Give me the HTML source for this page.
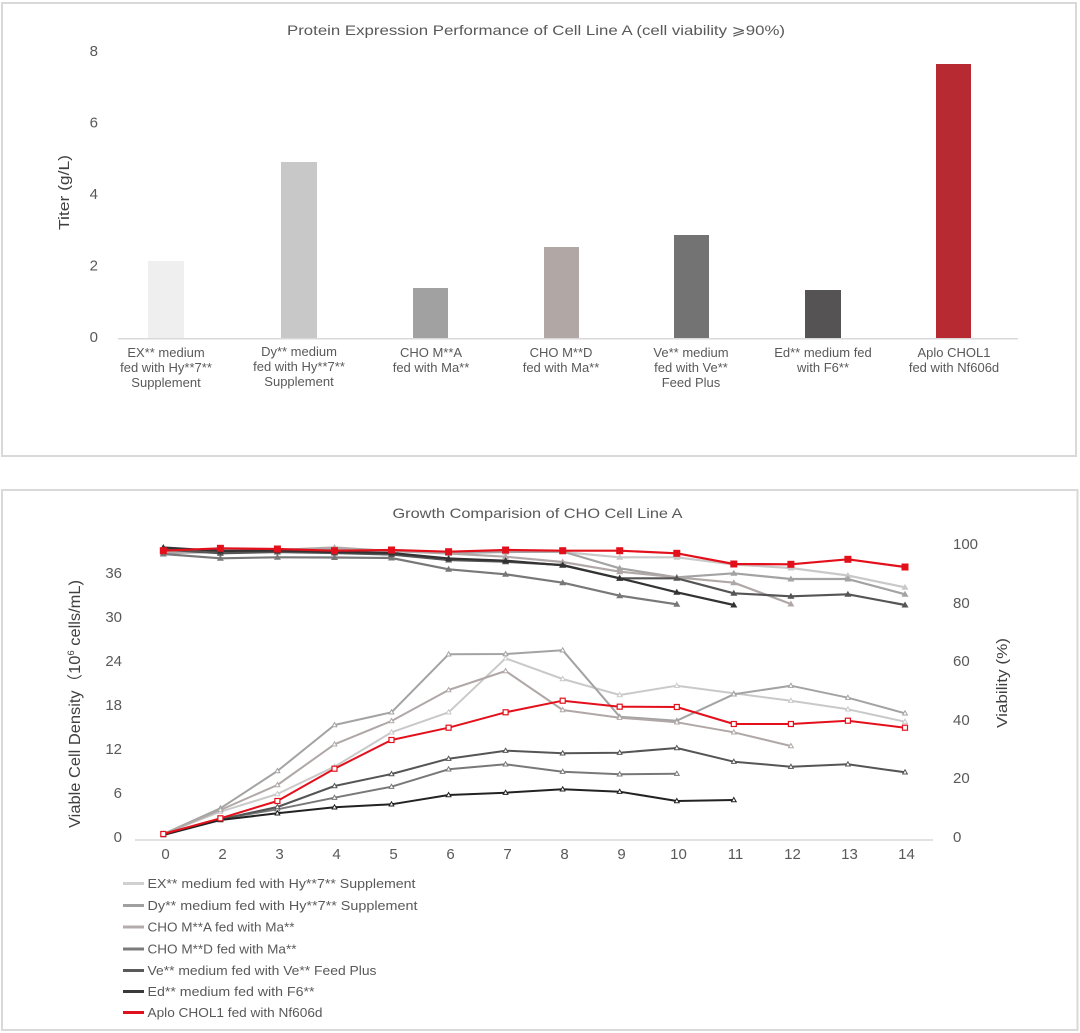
<!DOCTYPE html>
<html><head><meta charset="utf-8"><style>
html,body{margin:0;padding:0;background:#fff;}
svg{display:block;}
text{font-family:"Liberation Sans","Noto Sans CJK SC",sans-serif;fill:#595959;}
</style></head><body>
<svg width="1080" height="1033" viewBox="0 0 1080 1033" xmlns="http://www.w3.org/2000/svg">
<defs>
<marker id="vEX" markerWidth="8" markerHeight="8" refX="4" refY="4.5" markerUnits="userSpaceOnUse"><path d="M4,1 L7.5,7 L0.5,7Z" fill="#c9c9c9"/></marker>
<marker id="vDy" markerWidth="8" markerHeight="8" refX="4" refY="4.5" markerUnits="userSpaceOnUse"><path d="M4,1 L7.5,7 L0.5,7Z" fill="#a3a3a3"/></marker>
<marker id="vCA" markerWidth="8" markerHeight="8" refX="4" refY="4.5" markerUnits="userSpaceOnUse"><path d="M4,1 L7.5,7 L0.5,7Z" fill="#b0a8a7"/></marker>
<marker id="vCD" markerWidth="8" markerHeight="8" refX="4" refY="4.5" markerUnits="userSpaceOnUse"><path d="M4,1 L7.5,7 L0.5,7Z" fill="#787878"/></marker>
<marker id="vVe" markerWidth="8" markerHeight="8" refX="4" refY="4.5" markerUnits="userSpaceOnUse"><path d="M4,1 L7.5,7 L0.5,7Z" fill="#555555"/></marker>
<marker id="vEd" markerWidth="8" markerHeight="8" refX="4" refY="4.5" markerUnits="userSpaceOnUse"><path d="M4,1 L7.5,7 L0.5,7Z" fill="#333333"/></marker>
<marker id="vR" markerWidth="8" markerHeight="8" refX="4" refY="4" markerUnits="userSpaceOnUse"><rect x="0.5" y="0.5" width="7" height="7" fill="#e3101c"/></marker>
<marker id="cEX" markerWidth="6" markerHeight="6" refX="3" refY="3.3" markerUnits="userSpaceOnUse"><path d="M3,0.8 L5.4,5 L0.6,5Z" fill="#fff" stroke="#c9c9c9" stroke-width="1"/></marker>
<marker id="cDy" markerWidth="6" markerHeight="6" refX="3" refY="3.3" markerUnits="userSpaceOnUse"><path d="M3,0.8 L5.4,5 L0.6,5Z" fill="#fff" stroke="#a3a3a3" stroke-width="1"/></marker>
<marker id="cCA" markerWidth="6" markerHeight="6" refX="3" refY="3.3" markerUnits="userSpaceOnUse"><path d="M3,0.8 L5.4,5 L0.6,5Z" fill="#fff" stroke="#b0a8a7" stroke-width="1"/></marker>
<marker id="cCD" markerWidth="6" markerHeight="6" refX="3" refY="3.3" markerUnits="userSpaceOnUse"><path d="M3,0.8 L5.4,5 L0.6,5Z" fill="#fff" stroke="#787878" stroke-width="1"/></marker>
<marker id="cVe" markerWidth="6" markerHeight="6" refX="3" refY="3.3" markerUnits="userSpaceOnUse"><path d="M3,0.8 L5.4,5 L0.6,5Z" fill="#fff" stroke="#555555" stroke-width="1"/></marker>
<marker id="cEd" markerWidth="6" markerHeight="6" refX="3" refY="3.3" markerUnits="userSpaceOnUse"><path d="M3,0.8 L5.4,5 L0.6,5Z" fill="#fff" stroke="#222222" stroke-width="1"/></marker>
<marker id="cR" markerWidth="7" markerHeight="7" refX="3.5" refY="3.5" markerUnits="userSpaceOnUse"><rect x="1" y="1" width="5" height="5" fill="#fff" stroke="#e3101c" stroke-width="1.2"/></marker>
</defs>

<!-- ============ TOP CHART ============ -->
<rect x="2" y="3" width="1074" height="453" fill="#fff" stroke="#d9d9d9" stroke-width="2"/>
<text x="536" y="35" font-size="14" text-anchor="middle" textLength="498" lengthAdjust="spacingAndGlyphs">Protein Expression Performance of Cell Line A (cell viability ⩾90%)</text>

<g font-size="15" text-anchor="end">
<text x="98" y="56">8</text>
<text x="98" y="127.5">6</text>
<text x="98" y="199">4</text>
<text x="98" y="270.5">2</text>
<text x="98" y="342">0</text>
</g>
<text transform="translate(69,192.5) rotate(-90)" font-size="15" text-anchor="middle" style="fill:#404040" textLength="75" lengthAdjust="spacingAndGlyphs">Titer (g/L)</text>

<rect x="148" y="261" width="36" height="77" fill="#eeefee"/>
<rect x="281" y="162" width="36" height="176" fill="#c8c8c8"/>
<rect x="413" y="288" width="35" height="50" fill="#a0a1a0"/>
<rect x="544" y="247" width="35" height="91" fill="#b1a8a6"/>
<rect x="674" y="235" width="35" height="103" fill="#737373"/>
<rect x="805" y="290" width="36" height="48" fill="#555353"/>
<rect x="936" y="64" width="35" height="274" fill="#b72a31"/>
<line x1="118" y1="338.8" x2="1018" y2="338.8" stroke="#d9d9d9" stroke-width="1.5"/>

<g font-size="13" text-anchor="middle">
<text x="166" y="357">EX** medium</text><text x="166" y="372">fed with Hy**7**</text><text x="166" y="387">Supplement</text>
<text x="299" y="356">Dy** medium</text><text x="299" y="371">fed with Hy**7**</text><text x="299" y="386">Supplement</text>
<text x="431" y="357">CHO M**A</text><text x="431" y="372">fed with Ma**</text>
<text x="561" y="357">CHO M**D</text><text x="561" y="372">fed with Ma**</text>
<text x="691" y="357">Ve** medium</text><text x="691" y="372">fed with Ve**</text><text x="691" y="387">Feed Plus</text>
<text x="823" y="357">Ed** medium fed</text><text x="823" y="372">with F6**</text>
<text x="954" y="357">Aplo CHOL1</text><text x="954" y="372">fed with Nf606d</text>
</g>

<!-- ============ BOTTOM CHART ============ -->
<rect x="2" y="490" width="1075.5" height="540" fill="#fff" stroke="#d9d9d9" stroke-width="2"/>
<text x="537.5" y="518" font-size="14" text-anchor="middle" textLength="290" lengthAdjust="spacingAndGlyphs">Growth Comparision of CHO Cell Line A</text>

<g font-size="15" text-anchor="end">
<text x="122" y="842">0</text>
<text x="122" y="798">6</text>
<text x="122" y="754">12</text>
<text x="122" y="710">18</text>
<text x="122" y="666">24</text>
<text x="122" y="622">30</text>
<text x="122" y="578">36</text>
</g>
<g font-size="15" text-anchor="start">
<text x="953" y="549">100</text>
<text x="953" y="608">80</text>
<text x="953" y="666">60</text>
<text x="953" y="725">40</text>
<text x="953" y="783">20</text>
<text x="953" y="842">0</text>
</g>
<text transform="translate(80,704) rotate(-90)" font-size="15.5" text-anchor="middle" style="fill:#404040" textLength="248" lengthAdjust="spacingAndGlyphs">Viable Cell Density（10<tspan font-size="9" dy="-6">6</tspan><tspan dy="6"> cells/mL)</tspan></text>
<text transform="translate(1007,683) rotate(-90)" font-size="15" text-anchor="middle" style="fill:#404040" textLength="90" lengthAdjust="spacingAndGlyphs">Viability (%)</text>

<line x1="135" y1="840" x2="933" y2="840" stroke="#d9d9d9" stroke-width="1.5"/>
<g font-size="15" text-anchor="middle">
<text x="165.5" y="859">0</text><text x="222.5" y="859">2</text><text x="279.5" y="859">3</text><text x="336.5" y="859">4</text>
<text x="393.5" y="859">5</text><text x="450.5" y="859">6</text><text x="507.5" y="859">7</text><text x="564.5" y="859">8</text>
<text x="621.5" y="859">9</text><text x="678.5" y="859">10</text><text x="735.5" y="859">11</text><text x="792.5" y="859">12</text>
<text x="849.5" y="859">13</text><text x="906.5" y="859">14</text>
</g>

<g fill="none" stroke-width="2.2" stroke-linejoin="round">
<!-- viability -->
<polyline stroke="#c9c9c9" marker-start="url(#vEX)" marker-mid="url(#vEX)" marker-end="url(#vEX)" points="163.3,552 220.4,550 277.4,550 334.5,550 391.5,551 448.6,552 505.6,551.5 562.7,552 619.7,557.3 676.8,557.3 733.8,564.5 790.9,568 847.9,575.5 905,587.3"/>
<polyline stroke="#a3a3a3" marker-start="url(#vDy)" marker-mid="url(#vDy)" marker-end="url(#vDy)" points="163.3,553 220.4,552 277.4,551 334.5,549 391.5,551 448.6,553 505.6,552 562.7,551.5 619.7,568.3 676.8,577.3 733.8,573.3 790.9,579 847.9,579 905,594.3"/>
<polyline stroke="#b0a8a7" marker-start="url(#vCA)" marker-mid="url(#vCA)" marker-end="url(#vCA)" points="163.3,552 220.4,551 277.4,550 334.5,547.5 391.5,551 448.6,553.5 505.6,556.7 562.7,562 619.7,571.7 676.8,577.3 733.8,582.7 790.9,604"/>
<polyline stroke="#787878" marker-start="url(#vCD)" marker-mid="url(#vCD)" marker-end="url(#vCD)" points="163.3,554 220.4,558.3 277.4,557.3 334.5,557.5 391.5,558 448.6,569.3 505.6,574.3 562.7,582.7 619.7,595.7 676.8,604.3"/>
<polyline stroke="#555555" marker-start="url(#vVe)" marker-mid="url(#vVe)" marker-end="url(#vVe)" points="163.3,549.5 220.4,553.3 277.4,552 334.5,553 391.5,554.5 448.6,560 505.6,561.7 562.7,565 619.7,578.3 676.8,578.3 733.8,593.3 790.9,596.3 847.9,594.3 905,605"/>
<polyline stroke="#333333" marker-start="url(#vEd)" marker-mid="url(#vEd)" marker-end="url(#vEd)" points="163.3,547.5 220.4,551 277.4,550.5 334.5,552 391.5,553 448.6,558.5 505.6,560.7 562.7,565.3 619.7,578.3 676.8,592.3 733.8,605"/>
<polyline stroke="#e3101c" marker-start="url(#vR)" marker-mid="url(#vR)" marker-end="url(#vR)" points="163.3,550.7 220.4,548.3 277.4,549 334.5,550.7 391.5,550 448.6,551.7 505.6,550 562.7,550.7 619.7,550.7 676.8,553.3 733.8,564 790.9,564.3 847.9,559.3 905,567"/>
</g>
<g fill="none" stroke-width="2" stroke-linejoin="round">
<!-- VCD -->
<polyline stroke="#c9c9c9" marker-start="url(#cEX)" marker-mid="url(#cEX)" marker-end="url(#cEX)" points="163.3,834 220.4,811.7 277.4,794 334.5,766.7 391.5,732.3 448.6,712.3 505.6,658.3 562.7,679 619.7,695 676.8,685.7 733.8,693.3 790.9,700.7 847.9,709.3 905,721.7"/>
<polyline stroke="#a3a3a3" marker-start="url(#cDy)" marker-mid="url(#cDy)" marker-end="url(#cDy)" points="163.3,834 220.4,808.3 277.4,771 334.5,725 391.5,712.3 448.6,654.3 505.6,654 562.7,650.3 619.7,716.7 676.8,720.7 733.8,694.3 790.9,685.7 847.9,697.7 905,713.3"/>
<polyline stroke="#b0a8a7" marker-start="url(#cCA)" marker-mid="url(#cCA)" marker-end="url(#cCA)" points="163.3,834 220.4,810 277.4,785 334.5,744.3 391.5,721 448.6,690 505.6,671 562.7,710 619.7,717.7 676.8,722.3 733.8,732.3 790.9,746"/>
<polyline stroke="#787878" marker-start="url(#cCD)" marker-mid="url(#cCD)" marker-end="url(#cCD)" points="163.3,834 220.4,819 277.4,809.3 334.5,797.7 391.5,786.7 448.6,769.3 505.6,764.3 562.7,771.7 619.7,774.3 676.8,773.7"/>
<polyline stroke="#555555" marker-start="url(#cVe)" marker-mid="url(#cVe)" marker-end="url(#cVe)" points="163.3,834 220.4,819.3 277.4,807 334.5,786 391.5,774 448.6,758.7 505.6,750.7 562.7,753.3 619.7,752.7 676.8,748 733.8,761.7 790.9,766.7 847.9,764.3 905,772.3"/>
<polyline stroke="#222222" marker-start="url(#cEd)" marker-mid="url(#cEd)" marker-end="url(#cEd)" points="163.3,835 220.4,820 277.4,813.3 334.5,807.3 391.5,804.3 448.6,795 505.6,792.7 562.7,789.3 619.7,791.7 676.8,801 733.8,800"/>
<polyline stroke="#e3101c" marker-start="url(#cR)" marker-mid="url(#cR)" marker-end="url(#cR)" points="163.3,834 220.4,818.3 277.4,801 334.5,768.7 391.5,740 448.6,727.7 505.6,712.3 562.7,700.7 619.7,706.7 676.8,707 733.8,724 790.9,724 847.9,720.7 905,727.7"/>
</g>

<!-- legend -->
<g stroke-width="3">
<line x1="123" y1="883.5" x2="144" y2="883.5" stroke="#d0d0d0"/>
<line x1="123" y1="905.5" x2="144" y2="905.5" stroke="#a0a0a0"/>
<line x1="123" y1="927" x2="144" y2="927" stroke="#b4acab"/>
<line x1="123" y1="949" x2="144" y2="949" stroke="#7b7b7b"/>
<line x1="123" y1="970.5" x2="144" y2="970.5" stroke="#5a5a5a"/>
<line x1="123" y1="991.5" x2="144" y2="991.5" stroke="#3a3a3a"/>
<line x1="123" y1="1012.5" x2="144" y2="1012.5" stroke="#e0101e"/>
</g>
<g font-size="13">
<text x="147.5" y="888" textLength="268" lengthAdjust="spacingAndGlyphs">EX** medium fed with Hy**7** Supplement</text>
<text x="147.5" y="910" textLength="270" lengthAdjust="spacingAndGlyphs">Dy** medium fed with Hy**7** Supplement</text>
<text x="147.5" y="931.5" textLength="147" lengthAdjust="spacingAndGlyphs">CHO M**A fed with Ma**</text>
<text x="147.5" y="953.5" textLength="149" lengthAdjust="spacingAndGlyphs">CHO M**D fed with Ma**</text>
<text x="147.5" y="975" textLength="229" lengthAdjust="spacingAndGlyphs">Ve** medium fed with Ve** Feed Plus</text>
<text x="147.5" y="996" textLength="167" lengthAdjust="spacingAndGlyphs">Ed** medium fed with F6**</text>
<text x="147.5" y="1017" textLength="175" lengthAdjust="spacingAndGlyphs">Aplo CHOL1 fed with Nf606d</text>
</g>
</svg>
</body></html>
